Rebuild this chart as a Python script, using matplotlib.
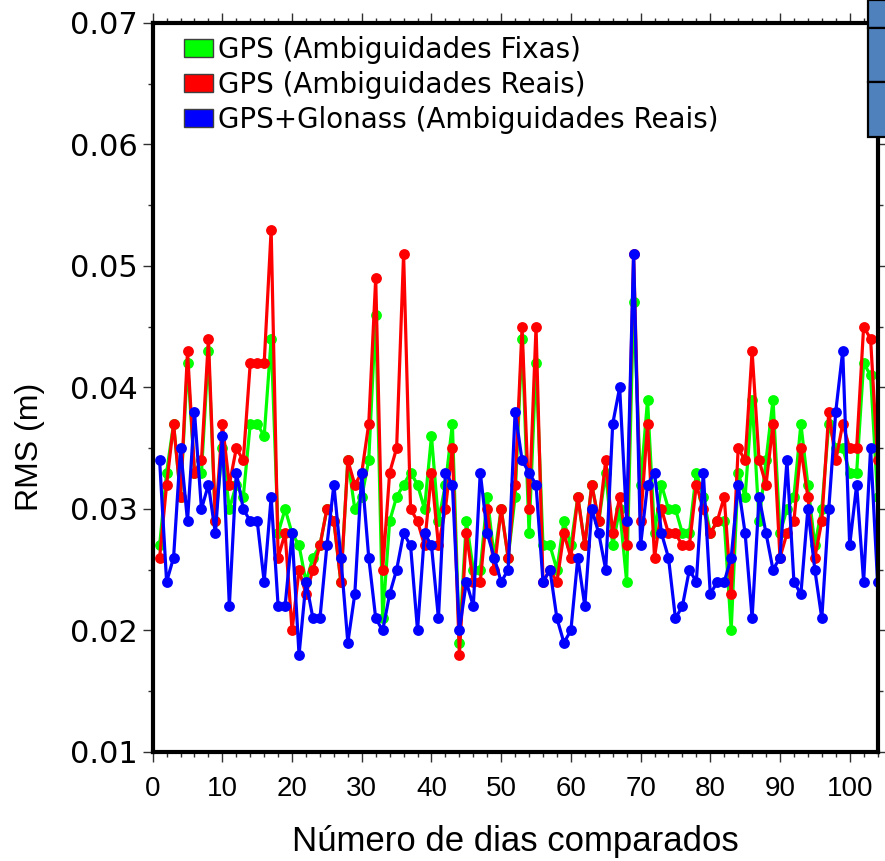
import matplotlib
matplotlib.use("Agg")
import matplotlib.pyplot as plt
from matplotlib.patches import Patch, Rectangle
from matplotlib.ticker import MultipleLocator
import numpy as np

plt.rcParams["font.family"] = ["Liberation Sans", "DejaVu Sans"]

# day index of each comparison
days = np.arange(1, 105)

# RMS (m), one value per day
gps_fixed = [
    0.027, 0.033, 0.037, 0.031, 0.042, 0.033, 0.033, 0.043, 0.029, 0.035,
    0.030, 0.032, 0.031, 0.037, 0.037, 0.036, 0.044, 0.028, 0.030, 0.028,
    0.027, 0.024, 0.026, 0.027, 0.030, 0.029, 0.024, 0.034, 0.030, 0.031,
    0.034, 0.046, 0.021, 0.029, 0.031, 0.032, 0.033, 0.032, 0.030, 0.036,
    0.029, 0.032, 0.037, 0.019, 0.029, 0.025, 0.025, 0.031, 0.026, 0.030,
    0.026, 0.031, 0.044, 0.028, 0.042, 0.027, 0.027, 0.025, 0.029, 0.027,
    0.031, 0.027, 0.032, 0.029, 0.033, 0.027, 0.030, 0.024, 0.047, 0.032,
    0.039, 0.028, 0.032, 0.030, 0.030, 0.028, 0.028, 0.033, 0.031, 0.028,
    0.029, 0.029, 0.020, 0.033, 0.031, 0.039, 0.029, 0.034, 0.039, 0.028,
    0.030, 0.031, 0.037, 0.032, 0.027, 0.030, 0.037, 0.035, 0.035, 0.033,
    0.033, 0.042, 0.041, 0.031,
]
gps_float = [
    0.026, 0.032, 0.037, 0.031, 0.043, 0.033, 0.034, 0.044, 0.029, 0.037,
    0.032, 0.035, 0.034, 0.042, 0.042, 0.042, 0.053, 0.026, 0.028, 0.020,
    0.025, 0.023, 0.025, 0.027, 0.030, 0.029, 0.024, 0.034, 0.032, 0.033,
    0.037, 0.049, 0.025, 0.033, 0.035, 0.051, 0.030, 0.029, 0.027, 0.033,
    0.027, 0.030, 0.035, 0.018, 0.028, 0.024, 0.024, 0.030, 0.025, 0.030,
    0.026, 0.032, 0.045, 0.030, 0.045, 0.024, 0.025, 0.024, 0.028, 0.026,
    0.031, 0.027, 0.032, 0.029, 0.034, 0.028, 0.031, 0.027, 0.051, 0.029,
    0.037, 0.026, 0.030, 0.028, 0.028, 0.027, 0.027, 0.032, 0.030, 0.028,
    0.029, 0.031, 0.023, 0.035, 0.034, 0.043, 0.034, 0.032, 0.037, 0.026,
    0.028, 0.029, 0.035, 0.031, 0.026, 0.029, 0.038, 0.034, 0.037, 0.035,
    0.035, 0.045, 0.044, 0.034,
]
gps_glonass_float = [
    0.034, 0.024, 0.026, 0.035, 0.029, 0.038, 0.030, 0.032, 0.028, 0.036,
    0.022, 0.033, 0.030, 0.029, 0.029, 0.024, 0.031, 0.022, 0.022, 0.028,
    0.018, 0.024, 0.021, 0.021, 0.027, 0.032, 0.026, 0.019, 0.023, 0.033,
    0.026, 0.021, 0.020, 0.023, 0.025, 0.028, 0.027, 0.020, 0.028, 0.027,
    0.021, 0.033, 0.032, 0.020, 0.024, 0.022, 0.033, 0.028, 0.026, 0.024,
    0.025, 0.038, 0.034, 0.033, 0.032, 0.024, 0.025, 0.021, 0.019, 0.020,
    0.026, 0.022, 0.030, 0.028, 0.025, 0.037, 0.040, 0.029, 0.051, 0.027,
    0.032, 0.033, 0.028, 0.026, 0.021, 0.022, 0.025, 0.024, 0.033, 0.023,
    0.024, 0.024, 0.026, 0.032, 0.028, 0.021, 0.031, 0.028, 0.025, 0.026,
    0.034, 0.024, 0.023, 0.030, 0.025, 0.021, 0.030, 0.038, 0.043, 0.027,
    0.032, 0.024, 0.035, 0.024,
]

series = [
    ("GPS (Ambiguidades Fixas)", gps_fixed, "#00ff00"),
    ("GPS (Ambiguidades Reais)", gps_float, "#ff0000"),
    ("GPS+Glonass (Ambiguidades Reais)", gps_glonass_float, "#0000ff"),
]


def main():
    fig = plt.figure(figsize=(8.85, 8.61), dpi=100)
    ax = fig.add_axes([0.1725, 0.1266, 0.8191, 0.8467])

    handles = []
    for label, values, color in series:
        ax.plot(days, values, color=color, linewidth=2.3, marker="o",
                markersize=7.8, markeredgewidth=0)
        handles.append(Patch(facecolor=color, edgecolor="#404040",
                             linewidth=1.0, label=label))

    ax.set_xlim(0, 104)
    ax.set_ylim(0.01, 0.07)
    ax.xaxis.set_major_locator(MultipleLocator(10))
    ax.xaxis.set_minor_locator(MultipleLocator(2))
    ax.yaxis.set_major_locator(MultipleLocator(0.01))
    ax.yaxis.set_minor_locator(MultipleLocator(0.005))
    ax.tick_params(which="both", direction="out", top=True, right=True,
                   color="#303030", width=1.0)
    ax.tick_params(which="major", length=7.5, labelsize=20, pad=3)
    ax.tick_params(which="minor", length=3.8)
    ax.tick_params(axis="x", which="major", pad=10)
    for lab in ax.get_yticklabels():
        lab.set_fontfamily("DejaVu Sans")
        lab.set_fontsize(22)
    for spine in ax.spines.values():
        spine.set_linewidth(3)

    ax.set_xlabel("Número de dias comparados", fontsize=25, labelpad=16)
    ax.set_ylabel("RMS (m)", fontsize=23)
    ax.yaxis.set_label_coords(-0.149, 0.418)

    ax.legend(handles=handles, loc="upper left",
              bbox_to_anchor=(0.0436, 0.982), frameon=False,
              prop={"family": "DejaVu Sans", "size": 20},
              handlelength=1.02, handleheight=0.63, handletextpad=0.2,
              labelspacing=0.25, borderpad=0, borderaxespad=0)

    # neighbouring panel box cut off at the top right of the picture
    box_edges = [0, 28, 82, 137]
    for top, bottom in zip(box_edges[:-1], box_edges[1:]):
        fig.patches.append(Rectangle(
            (868 / 885, 1 - bottom / 861), 30 / 885, (bottom - top) / 861,
            transform=fig.transFigure, facecolor="#4f81bd",
            edgecolor="black", linewidth=1.6, zorder=10))

    fig.savefig("out.png", dpi=100)
    plt.close(fig)


if __name__ == "__main__":
    main()
